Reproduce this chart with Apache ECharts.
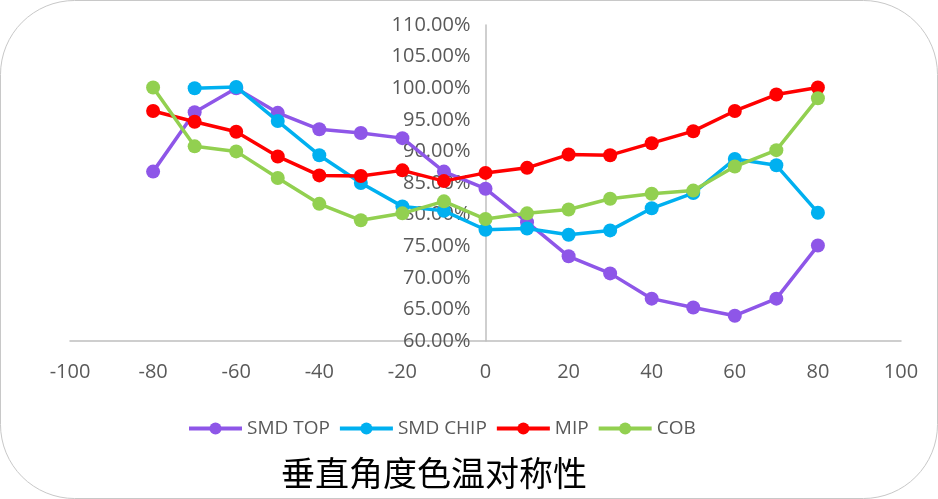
<!DOCTYPE html>
<html>
<head>
<meta charset="utf-8">
<script src="https://cdn.jsdelivr.net/npm/echarts@6/dist/echarts.min.js"></script>
<style>
html,body{margin:0;padding:0;background:#fff;}
#main{width:938px;height:499px;}
</style>
</head>
<body>
<div id="main"></div>
<script>
var angles = [-80, -70, -60, -50, -40, -30, -20, -10, 0, 10, 20, 30, 40, 50, 60, 70, 80];
var smdTop = [86.8, 96.2, 100.0, 96.1, 93.5, 92.9, 92.1, 86.8, 84.1, 78.8, 73.4, 70.7, 66.7, 65.3, 64.0, 66.7, 75.1];
var smdChip = [null, 100.0, 100.2, 94.8, 89.4, 85.0, 81.3, 80.6, 77.6, 77.8, 76.8, 77.5, 81.0, 83.4, 88.8, 87.8, 80.3];
var mip = [96.4, 94.7, 93.1, 89.2, 86.2, 86.1, 87.0, 85.3, 86.6, 87.4, 89.5, 89.4, 91.3, 93.2, 96.4, 99.0, 100.1];
var cob = [100.1, 90.8, 90.0, 85.8, 81.7, 79.1, 80.2, 82.1, 79.3, 80.2, 80.8, 82.5, 83.3, 83.8, 87.6, 90.2, 98.4];
var seriesNames = ['SMD TOP', 'SMD CHIP', 'MIP', 'COB'];
var colors = ['#8E56E8', '#00B0F0', '#FF0000', '#92D050'];
var titleText = '垂直角度色温对称性';

function pairs(vals) {
  var out = [];
  for (var i = 0; i < angles.length; i++) {
    if (vals[i] !== null) out.push([angles[i], vals[i]]);
  }
  return out;
}
var allData = [smdTop, smdChip, mip, cob];
var font = '"Open Sans", "Liberation Sans", sans-serif';

var gridLeft = 70, gridRight = 37, W = 938;
var gridWidth = W - gridLeft - gridRight;
var xMin = -100, xMax = 100;
var zeroOffset = gridWidth * (0 - xMin) / (xMax - xMin);

var chart = echarts.init(document.getElementById('main'), null, {renderer: 'canvas'});
chart.setOption({
  animation: false,
  backgroundColor: '#fff',
  graphic: [{
    type: 'rect',
    shape: {x: 0.5, y: 0.5, width: 937, height: 498, r: 74},
    style: {fill: 'none', stroke: '#c8c8c8', lineWidth: 1},
    z: -1
  }, {
    type: 'text',
    x: 434, y: 473,
    style: {text: titleText, fontFamily: '"Noto Sans CJK SC", sans-serif', fontSize: 34,
      fill: '#000', align: 'center', verticalAlign: 'middle'}
  }],
  legend: {
    left: 182,
    top: 414,
    itemWidth: 53,
    itemHeight: 15,
    itemGap: 8,
    lineStyle: {width: 4},
    textStyle: {fontFamily: font, fontSize: 19, color: '#595959'},
    data: seriesNames
  },
  grid: {left: gridLeft, right: gridRight, top: 25, bottom: 158, containLabel: false, outerBoundsMode: 'none'},
  xAxis: {
    type: 'value',
    min: xMin, max: xMax, interval: 20,
    splitLine: {show: false},
    axisTick: {show: false},
    axisLine: {onZero: false, lineStyle: {color: '#BFBFBF', width: 1.5}},
    axisLabel: {margin: 21, fontFamily: font, fontSize: 20, color: '#595959'}
  },
  yAxis: {
    type: 'value',
    position: 'left',
    offset: -zeroOffset,
    min: 60, max: 110, interval: 5,
    splitLine: {show: false},
    axisTick: {show: false},
    axisLine: {show: true, onZero: false, lineStyle: {color: '#BFBFBF', width: 1.5}},
    axisLabel: {margin: 15, fontFamily: font, fontSize: 20, color: '#595959',
      formatter: function (v) { return v.toFixed(2) + '%'; }}
  },
  series: seriesNames.map(function (n, i) {
    return {
      name: n,
      type: 'line',
      data: pairs(allData[i]),
      symbol: 'circle',
      symbolSize: 14,
      lineStyle: {width: 3.5, color: colors[i]},
      itemStyle: {color: colors[i]},
      z: 2 + i
    };
  })
});
</script>
</body>
</html>
